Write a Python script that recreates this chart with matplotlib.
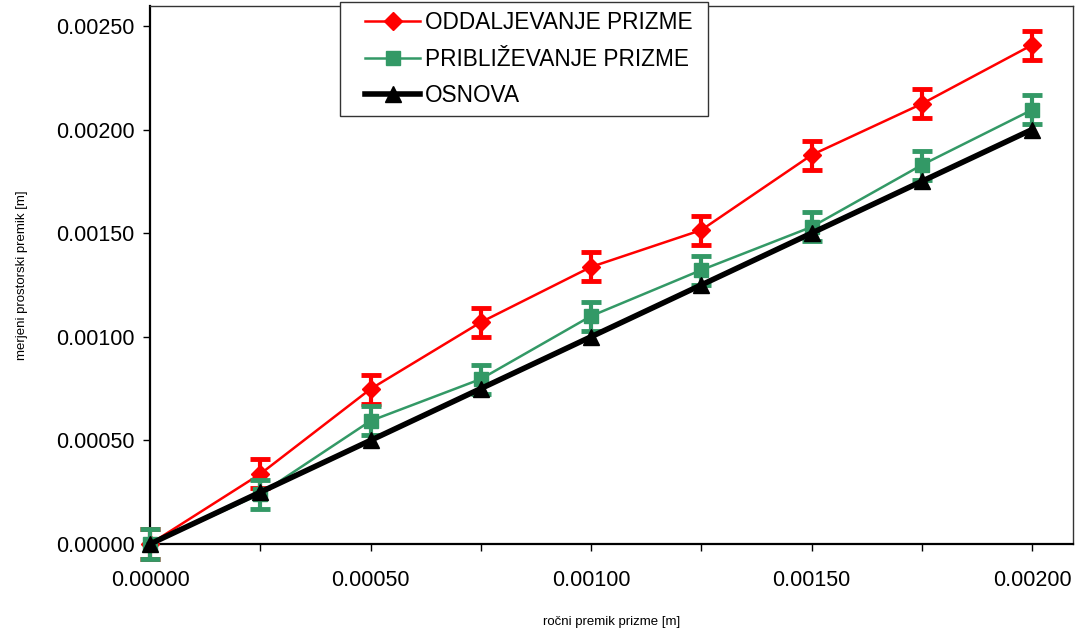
import matplotlib
matplotlib.use("Agg")
import matplotlib.pyplot as plt
from matplotlib.lines import Line2D
from matplotlib.patches import Rectangle
from matplotlib.ticker import FormatStrFormatter

plt.rcParams['font.family'] = ['Liberation Sans', 'DejaVu Sans']

# data
x = [0.0, 0.00025, 0.0005, 0.00075, 0.001, 0.00125, 0.0015, 0.00175, 0.002]
oddaljevanje = [0.0, 0.000338, 0.000748, 0.00107, 0.001337, 0.001515, 0.001877, 0.002124, 0.002408]
priblizevanje = [0.0, 0.000241, 0.000594, 0.000796, 0.0011, 0.001322, 0.00153, 0.001829, 0.002095]
osnova = [0.0, 0.00025, 0.0005, 0.00075, 0.001, 0.00125, 0.0015, 0.00175, 0.002]
err = 0.00007

labels = ['ODDALJEVANJE PRIZME', 'PRIBLIŽEVANJE PRIZME', 'OSNOVA']
red = '#FF0000'
green = '#339966'

fig = plt.figure(figsize=(10.77, 6.35), dpi=100)
ax = fig.add_axes([0.1393, 0.1433, 0.857, 0.8473])

eb1 = ax.errorbar(x, oddaljevanje, yerr=err, color=red, lw=1.8, marker='D', ms=9,
                  elinewidth=3, capsize=7, capthick=3.5, zorder=3)
eb2 = ax.errorbar(x, priblizevanje, yerr=err, color=green, lw=1.8, marker='s', ms=10,
                  elinewidth=3, capsize=7, capthick=3.5, zorder=4)
ln, = ax.plot(x, osnova, color='black', lw=4, marker='^', ms=11, zorder=5)
for eb in (eb1, eb2):
    for a in eb.lines[0:1] + tuple(eb.lines[1]) + tuple(eb.lines[2]):
        a.set_clip_on(False)
ln.set_clip_on(False)

ax.set_xlim(0, 0.002093)
ax.set_ylim(0, 0.0025965)
ax.set_xticks(x)
ax.set_yticks([0, 0.0005, 0.001, 0.0015, 0.002, 0.0025])
ax.yaxis.set_major_formatter(FormatStrFormatter('%.5f'))
ax.tick_params(labelsize=15.5, length=5, width=1, direction='out', pad=6)
ax.tick_params(axis='x', pad=14)
ax.set_xticklabels(['0.00000', '', '0.00050', '', '0.00100', '', '0.00150', '', '0.00200'])

for s in ['left', 'bottom']:
    ax.spines[s].set_linewidth(1.6)
for s in ['top', 'right']:
    ax.spines[s].set_linewidth(1.0)
    ax.spines[s].set_color('#333333')

ax.set_xlabel('ročni premik prizme [m]', fontsize=9.5, labelpad=18)
ax.set_ylabel('merjeni prostorski premik [m]', fontsize=9.5, labelpad=20)

# legend frame drawn separately so the padding matches
W, H = 1077, 635
box = Rectangle((340 / W, 1 - 116 / H), 368 / W, 114 / H, transform=fig.transFigure,
                facecolor='white', edgecolor='#333333', lw=1.0, zorder=9)
fig.patches.append(box)

handles = [
    Line2D([], [], color=red, lw=1.8, marker='D', ms=9),
    Line2D([], [], color=green, lw=1.8, marker='s', ms=10),
    Line2D([], [], color='black', lw=4, marker='^', ms=11),
]
leg = fig.legend(handles, labels, loc='upper left', bbox_to_anchor=(365 / W, 1 - 11 / H),
                 fontsize=16.3, frameon=False, handlelength=2.45,
                 handletextpad=0.2, labelspacing=0.6, borderpad=0, borderaxespad=0)
leg.set_zorder(10)

fig.savefig('out.png', dpi=100)
